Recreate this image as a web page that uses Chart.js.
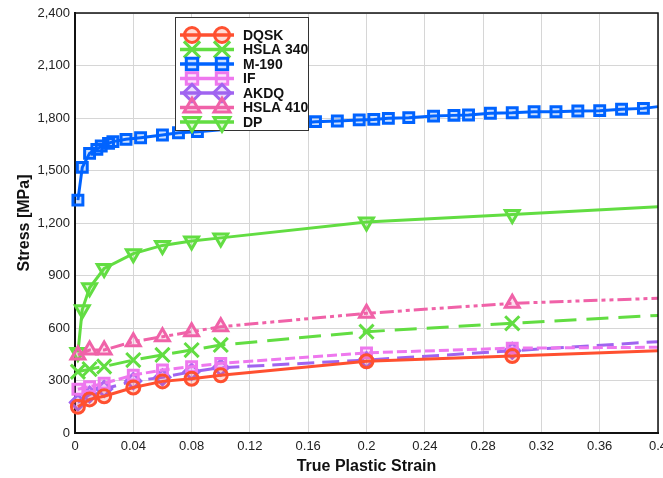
<!DOCTYPE html>
<html><head><meta charset="utf-8">
<script src="https://cdn.jsdelivr.net/npm/chart.js@4/dist/chart.umd.min.js"></script>
<style>html,body{margin:0;padding:0;background:#fff;overflow:hidden}#wrap{width:663px;height:478px}</style>
</head><body><div id="wrap"><canvas id="c" width="663" height="478"></canvas></div>
<script>
// ---- data ----
const seriesNames = ['DQSK','HSLA 340','M-190','IF','AKDQ','HSLA 410','DP'];
const strainStd = [0.002, 0.01, 0.02, 0.04, 0.06, 0.08, 0.1, 0.2, 0.3, 0.4];
const dqskStress    = [150, 192, 210, 260, 295, 310, 330, 410, 440, 470];
const hsla340Stress = [350, 365, 380, 417, 446, 474, 503, 579, 627, 672];
const ifStress      = [250, 265, 284, 331, 360, 379, 398, 458, 485, 490];
const akdqStress    = [175, 220, 252, 297, 318, 350, 373, 417, 470, 522];
const hsla410Stress = [446, 474, 474, 522, 550, 579, 607, 684, 741, 770];
const strainDP  = [0.002, 0.005, 0.01, 0.02, 0.04, 0.06, 0.08, 0.1, 0.2, 0.3, 0.4];
const dpStress  = [460, 705, 830, 940, 1025, 1072, 1097, 1115, 1206, 1248, 1293];
const strainM190 = [0.002, 0.005, 0.01, 0.015, 0.018, 0.023, 0.026, 0.035, 0.045, 0.06, 0.071, 0.084,
                    0.165, 0.18, 0.195, 0.205, 0.215, 0.229, 0.246, 0.26, 0.27, 0.285, 0.3, 0.315,
                    0.33, 0.345, 0.36, 0.375, 0.39, 0.4];
const m190Stress = [1331, 1518, 1598, 1621, 1640, 1655, 1665, 1678, 1687, 1703, 1716, 1722,
                    1779, 1783, 1789, 1792, 1798, 1802, 1811, 1815, 1817, 1827, 1830, 1836,
                    1836, 1840, 1842, 1850, 1855, 1865];
const xTicks = [0, 0.04, 0.08, 0.12, 0.16, 0.2, 0.24, 0.28, 0.32, 0.36, 0.4];
const yTicks = [0, 300, 600, 900, 1200, 1500, 1800, 2100, 2400];

const FONT = "'Liberation Sans', Arial, sans-serif";
function pts(xs, ys){ return xs.map((x,i)=>({x:x, y:ys[i]})); }
function rgba(c,a){ const n=parseInt(c.slice(1),16); return `rgba(${n>>16},${(n>>8)&255},${n&255},${a})`; }
function mk(label, xs, ys, color, style, r, dash, rot){
  return {label, data: pts(xs, ys), borderColor: color, backgroundColor: rgba(color,0.2),
    pointBackgroundColor: rgba(color,0.2), pointBorderColor: color,
    borderWidth: 3, borderDash: dash, pointStyle: style, pointRotation: rot||0,
    pointBorderWidth: 3, markerSize: r,
    pointRadius: c => (c.raw && c.raw.x >= 0.4) ? 0 : r,
    pointHoverRadius: 0, tension: 0, clip: false, fill: false};
}
const datasets = [
  mk(seriesNames[0], strainStd, dqskStress, '#ff5030', 'circle', 6.5, []),
  mk(seriesNames[1], strainStd, hsla340Stress, '#62dd42', 'crossRot', 10, [22,10]),
  mk(seriesNames[2], strainM190, m190Stress, '#0063ff', 'rect', 7, []),
  mk(seriesNames[3], strainStd, ifStress, '#ee78ee', 'rect', 7, [10,4]),
  mk(seriesNames[4], strainStd, akdqStress, '#a064f0', 'rectRot', 7.5, [17,8]),
  mk(seriesNames[5], strainStd, hsla410Stress, '#f062a8', 'triangle', 8, [14,4,4,4,4,4]),
  mk(seriesNames[6], strainDP, dpStress, '#62dd42', 'triangle', 8, [], 180)
];

const legendBox = {id:'legendBox', afterDatasetsDraw(chart){
  const ctx = chart.ctx; ctx.save();
  const bx=175, by=17, bw=133, bh=113;
  ctx.fillStyle='#fff'; ctx.fillRect(bx,by,bw,bh);
  ctx.strokeStyle='#333'; ctx.lineWidth=1; ctx.strokeRect(bx+0.5,by+0.5,bw,bh);
  chart.data.datasets.forEach((ds,i)=>{
    const y = 35 + i*14.5;
    ctx.setLineDash([]);
    ctx.strokeStyle = ds.borderColor; ctx.lineWidth = 3.5;
    ctx.beginPath(); ctx.moveTo(180,y); ctx.lineTo(234,y); ctx.stroke();
    [192,222].forEach(px=>{
      ctx.fillStyle = ds.pointBackgroundColor; ctx.strokeStyle = ds.borderColor;
      ctx.lineWidth = 3;
      Chart.helpers.drawPoint(ctx, {pointStyle: ds.pointStyle, rotation: ds.pointRotation, radius: ds.markerSize * 1.15, borderWidth: 3}, px, y);
    });
    ctx.fillStyle='#111'; ctx.font = `bold 14px ${FONT}`; ctx.textBaseline='middle'; ctx.textAlign='left';
    ctx.fillText(ds.label, 243, y+1);
  });
  ctx.restore();
}};
const frame = {id:'frame', afterDraw(chart){
  const a = chart.chartArea, ctx = chart.ctx; ctx.save();
  ctx.strokeStyle='#111'; ctx.lineWidth=1.5;
  ctx.beginPath(); ctx.moveTo(a.left, a.top); ctx.lineTo(a.right, a.top); ctx.lineTo(a.right, a.bottom); ctx.stroke();
  ctx.restore();
}};

new Chart(document.getElementById('c'), {
  type: 'line',
  data: { datasets },
  options: {
    responsive:false, animation:false, devicePixelRatio:1,
    layout:{autoPadding:false, padding:{top:13, right:5, left:0, bottom:0}},
    plugins:{legend:{display:false}, tooltip:{enabled:false}},
    scales:{
      x:{type:'linear', min:0, max:0.4,
        afterBuildTicks: s=>{ s.ticks = xTicks.map(v=>({value:v})); },
        afterFit: s=>{ s.height = 45; s.paddingLeft = 0; s.paddingRight = 0; },
        ticks:{callback: v=>String(Number(v.toFixed(2))), font:{family:FONT, size:13}, color:'#222', padding:6, maxRotation:0, autoSkip:false},
        grid:{color:'#d6d6d6', lineWidth:1, drawTicks:false},
        border:{color:'#111', width:2},
        title:{display:true, text:'True Plastic Strain', color:'#111', font:{family:FONT, size:16, weight:'bold'}, padding:{top:0, bottom:2}}
      },
      y:{type:'linear', min:0, max:2400,
        afterBuildTicks: s=>{ s.ticks = yTicks.map(v=>({value:v})); },
        afterFit: s=>{ s.width = 75; s.paddingTop = 0; s.paddingBottom = 0; },
        ticks:{callback: v=>v.toLocaleString('en-US'), font:{family:FONT, size:13}, color:'#222', padding:5, autoSkip:false},
        grid:{color:'#d6d6d6', lineWidth:1, drawTicks:false},
        border:{color:'#111', width:2},
        title:{display:true, text:'Stress [MPa]', color:'#111', font:{family:FONT, size:16, weight:'bold'}, padding:{top:15, bottom:0}}
      }
    }
  },
  plugins:[legendBox, frame]
});
</script>
</body></html>
